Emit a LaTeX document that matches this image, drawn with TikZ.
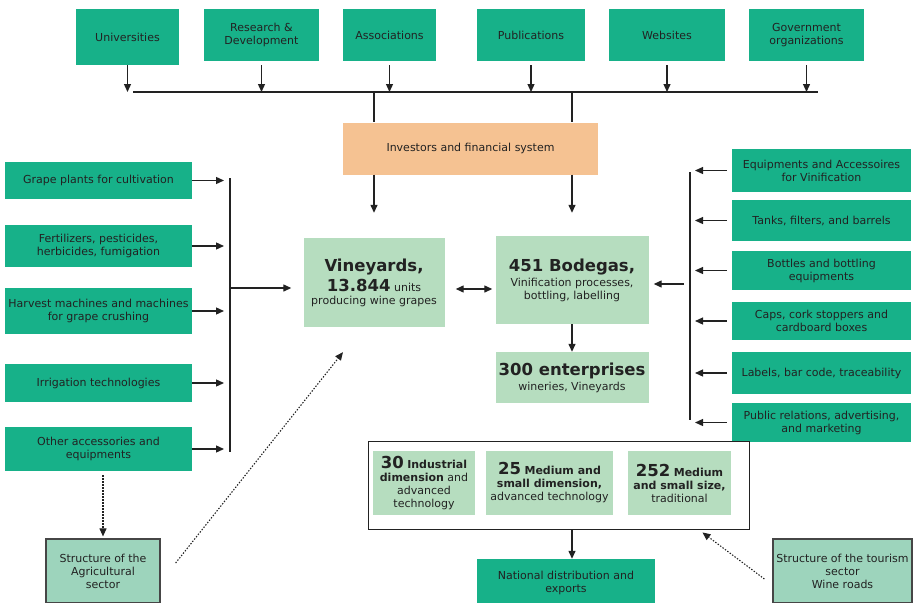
\documentclass[tikz,border=0pt]{standalone}
\usepackage{fontspec}
\setmainfont{DejaVu Sans}
\usetikzlibrary{arrows.meta}
\definecolor{tealbox}{RGB}{23,177,137}
\definecolor{corelight}{RGB}{182,221,191}
\definecolor{invorange}{RGB}{245,194,146}
\definecolor{structgreen}{RGB}{157,212,188}
\definecolor{ink}{RGB}{34,34,34}
\definecolor{edgegray}{RGB}{70,70,70}
\newcommand\bigbold[1]{{\fontsize{16.5}{19}\selectfont\bfseries #1}}
\begin{document}
\begin{tikzpicture}[x=1pt,y=-1pt,
  every node/.style={font=\fontsize{11}{13}\selectfont,text=ink,align=center,inner sep=1pt},
  sz/.style 2 args={minimum width=#1pt,minimum height=#2pt},
  ext/.style={fill=tealbox},
  core/.style={fill=corelight},
  struct/.style={fill=structgreen,draw=edgegray,line width=1.2pt},
  arr/.style={-{Triangle[length=8pt,width=7pt]},line width=1.3pt,draw=ink},
  dotarr/.style={-{Triangle[length=8pt,width=7pt]},line width=1.1pt,dash pattern=on 1.4pt off 1.6pt,draw=ink},
  spine/.style={line width=1.9pt,draw=ink}]
\useasboundingbox (0,0) rectangle (917,602);

\node[ext,sz={103}{56}] (uni) at (127.5,37) {Universities};
\node[ext,sz={115}{52}] (rnd) at (261.5,35) {Research \&\\Development};
\node[ext,sz={93}{52}] (asc) at (389.5,35) {Associations};
\node[ext,sz={108}{52}] (pub) at (531,35) {Publications};
\node[ext,sz={116}{52}] (web) at (667,35) {Websites};
\node[ext,sz={115}{52}] (gov) at (806.5,35) {Government\\organizations};

\coordinate (busw) at (133,92);
\coordinate (buse) at (818,92);
\draw[spine] (busw) -- (buse);
\draw[arr] (uni.south) -- (uni.south |- busw);
\draw[arr,shorten <=4pt] (rnd.south) -- (rnd.south |- busw);
\draw[arr,shorten <=4pt] (asc.south) -- (asc.south |- busw);
\draw[arr,shorten <=4pt] (pub.south) -- (pub.south |- busw);
\draw[arr,shorten <=4pt] (web.south) -- (web.south |- busw);
\draw[arr,shorten <=4pt] (gov.south) -- (gov.south |- busw);

\node[fill=invorange,sz={255}{52}] (inv) at (470.5,148.5) {Investors and financial system};

\node[core,sz={141}{89}] (vin) at (374,282.5) {\bigbold{Vineyards,}\\[3pt]\bigbold{13.844} units\\producing wine grapes};
\node[core,sz={153}{88}] (bod) at (572,280) {\bigbold{451 Bodegas,}\\[2pt]Vinification processes,\\bottling, labelling};
\node[core,sz={153}{51}] (ent) at (572,377.5) {\bigbold{300 enterprises}\\[2pt]wineries, Vineyards};

\draw[line width=1.3pt,draw=ink] (vin.north |- busw) -- (vin.north |- inv.north);
\draw[line width=1.3pt,draw=ink] (bod.north |- busw) -- (bod.north |- inv.north);
\draw[arr] (vin.north |- inv.south) -- ([yshift=25pt]vin.north);
\draw[arr] (bod.north |- inv.south) -- ([yshift=23pt]bod.north);

\coordinate (dl) at ([shift={(11pt,-6.5pt)}]vin.east);
\draw[{Triangle[length=8pt,width=7pt]}-{Triangle[length=8pt,width=7pt]},line width=1.3pt,draw=ink,shorten >=3pt] (dl) -- (dl -| bod.west);
\draw[arr] (bod.south) -- (ent.north);

\node[ext,sz={187}{37}] (grape) at (98.5,180.5) {Grape plants for cultivation};
\node[ext,sz={187}{42}] (fert) at (98.5,246) {Fertilizers, pesticides,\\herbicides, fumigation};
\node[ext,sz={187}{46}] (harv) at (98.5,311) {Harvest machines and machines\\for grape crushing};
\node[ext,sz={187}{38}] (irr) at (98.5,383) {Irrigation technologies};
\node[ext,sz={187}{44}] (oth) at (98.5,449) {Other accessories and\\equipments};

\coordinate (lst) at (230,178);
\coordinate (lsb) at (230,452);
\draw[spine] (lst) -- (lsb);
\draw[arr,shorten >=6pt] (grape.east) -- (grape.east -| lst);
\draw[arr,shorten >=6pt] (fert.east) -- (fert.east -| lst);
\draw[arr,shorten >=6pt] (harv.east) -- (harv.east -| lst);
\draw[arr,shorten >=6pt] (irr.east) -- (irr.east -| lst);
\draw[arr,shorten >=6pt] (oth.east) -- (oth.east -| lst);
\coordinate (vinin) at ([yshift=-5.5pt]vin.west);
\draw[arr,shorten >=12pt] (vinin -| lst) -- (vinin);

\node[ext,sz={179}{43}] (equip) at (821.5,170.5) {Equipments and Accessoires\\for Vinification};
\node[ext,sz={179}{41}] (tanks) at (821.5,220.5) {Tanks, filters, and barrels};
\node[ext,sz={179}{39}] (bottl) at (821.5,270.5) {Bottles and bottling\\equipments};
\node[ext,sz={179}{38}] (caps) at (821.5,321) {Caps, cork stoppers and\\cardboard boxes};
\node[ext,sz={179}{42}] (labl) at (821.5,373) {Labels, bar code, traceability};
\node[ext,sz={179}{39}] (pubrel) at (821.5,422.5) {Public relations, advertising,\\and marketing};

\coordinate (rst) at (690,172);
\coordinate (rsb) at (690,420);
\draw[spine] (rst) -- (rsb);
\draw[arr,shorten <=5pt,shorten >=5pt] (equip.west) -- (equip.west -| rst);
\draw[arr,shorten <=5pt,shorten >=5pt] (tanks.west) -- (tanks.west -| rst);
\draw[arr,shorten <=5pt,shorten >=5pt] (bottl.west) -- (bottl.west -| rst);
\draw[arr,shorten <=5pt,shorten >=5pt] (caps.west) -- (caps.west -| rst);
\draw[arr,shorten <=5pt,shorten >=5pt] (labl.west) -- (labl.west -| rst);
\draw[arr,shorten <=5pt,shorten >=5pt] (pubrel.west) -- (pubrel.west -| rst);
\coordinate (bodin) at ([yshift=-4pt]bod.east);
\draw[arr,shorten <=6pt,shorten >=5pt] (bodin -| rst) -- (bodin);

\node[draw=ink,line width=0.9pt,sz={381}{88}] (grp) at (558.5,485) {};
\node[core,sz={102}{64}] (b30) at (424,483) {\bigbold{30} \textbf{Industrial}\\\textbf{dimension} and\\advanced\\technology};
\node[core,sz={127}{64}] (b25) at (549.5,483) {\bigbold{25} \textbf{Medium and}\\\textbf{small dimension,}\\advanced technology};
\node[core,sz={103}{64}] (b252) at (679.5,483) {\bigbold{252} \textbf{Medium}\\\textbf{and small size,}\\traditional};

\node[ext,sz={178}{48}] (nat) at (566,583) {National distribution and\\exports};
\coordinate (gout) at ([xshift=13.5pt]grp.south);
\draw[arr] (gout) -- (gout |- nat.north);

\node[struct,sz={114}{64}] (agr) at (103,571) {Structure of the\\Agricultural\\sector};
\node[struct,sz={139}{64}] (tour) at (842.5,571) {Structure of the tourism\\sector\\Wine roads};

\draw[dotarr,shorten <=4pt,shorten >=2pt] (agr.north |- oth.south) -- (agr.north);
\draw[dotarr] ([shift={(15pt,8pt)}]agr.east) -- ([shift={(-31pt,-25pt)}]vin.south);
\draw[dotarr] ([shift={(-8pt,-8pt)}]tour.west) -- ([shift={(-47pt,-3pt)}]grp.south east);
\end{tikzpicture}
\end{document}
